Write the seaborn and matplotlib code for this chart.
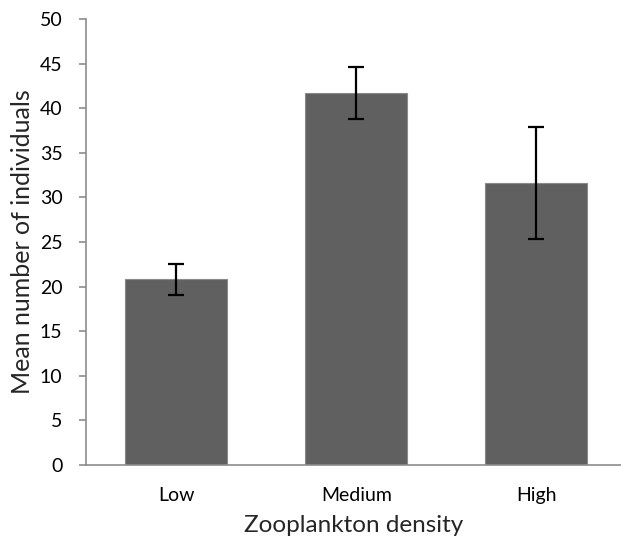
import pandas as pd
import matplotlib.pyplot as plt
import seaborn as sns

# Data
densities = ["Low", "Medium", "High"]
mean_individuals = [20.8, 41.7, 31.6]
error_sizes = [1.7, 2.9, 6.3]

df = pd.DataFrame({"density": densities, "mean": mean_individuals})

sns.set_theme(style="white")
plt.rcParams["font.family"] = ["Lato", "DejaVu Sans"]

fig = plt.figure(figsize=(6.21, 5.44), dpi=100)
ax = fig.add_axes([0.1385, 0.1452, 0.8615, 0.8198])

sns.barplot(data=df, x="density", y="mean", color="#606060", saturation=1,
            width=0.567, edgecolor="#8a8a8a", linewidth=0.8, ax=ax)
ax.errorbar(densities, mean_individuals, yerr=error_sizes, fmt="none",
            ecolor="black", elinewidth=1.6, capsize=6, capthick=1.6)

ax.set_ylim(0, 50)
ax.set_yticks(range(0, 51, 5))
ax.set_xlim(-0.5, 2.47)

for side in ["top", "right"]:
    ax.spines[side].set_visible(False)
for side in ["left", "bottom"]:
    ax.spines[side].set_color("#8c8c8c")
    ax.spines[side].set_linewidth(1.2)

ax.tick_params(axis="y", which="major", left=True, length=5, width=1.2,
               color="#8c8c8c", labelsize=14, pad=12, labelcolor="black")
ax.tick_params(axis="x", bottom=False, labelsize=14, pad=10, labelcolor="black")

ax.set_xlabel("Zooplankton density", fontsize=17.5, labelpad=8)
ax.set_ylabel("Mean number of individuals", fontsize=18)
ax.yaxis.set_label_coords(-0.097, 0.5)

fig.savefig("out.png", dpi=100)
